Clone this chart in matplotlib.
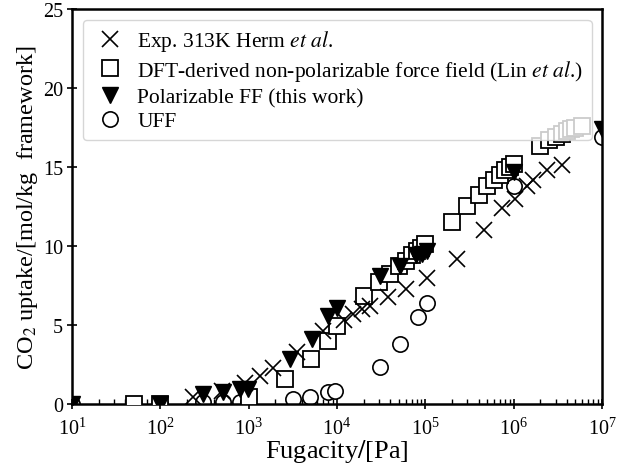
import matplotlib
matplotlib.use("Agg")
import matplotlib.pyplot as plt
import numpy as np

plt.rcParams['font.family'] = ['Liberation Serif', 'DejaVu Serif']
plt.rcParams['mathtext.fontset'] = 'stix'

# Experimental data (Herm et al.), 313 K
exp_p = [237, 495, 910, 1350, 1900, 3500, 6900, 12000, 15000, 19000, 23700,
         38000, 60000, 104000, 227000, 460000, 740000, 1.04e6, 1.4e6,
         1.67e6, 2.4e6, 3.5e6]
exp_q = [0.42, 0.8, 1.35, 1.8, 2.3, 3.3, 4.6, 5.3, 5.7, 6.0, 6.2,
         6.8, 7.3, 8.0, 9.2, 11.0, 12.4, 13.0, 13.8, 14.2, 14.8, 15.1]

# DFT-derived non-polarizable force field (Lin et al.)
dft_p = [50, 100, 1000, 2600, 5100, 8000, 10000, 20000, 30000, 40000,
         50000, 60000, 70000, 80000, 90000, 100000, 2e5, 3e5, 4e5, 5e5, 6e5,
         7e5, 8e5, 9e5, 1e6, 2e6, 2.5e6, 3e6, 3.5e6, 4e6, 4.5e6, 5e6, 6e6]
dft_q = [0.0, 0.0, 0.45, 1.55, 2.85, 4.0, 4.95, 6.85, 7.7, 8.2,
         8.75, 9.05, 9.4, 9.7, 9.9, 10.1, 11.5, 12.5, 13.2, 13.8, 14.2,
         14.5, 14.8, 15.0, 15.2, 16.3, 16.7, 16.9, 17.1, 17.3, 17.4, 17.5, 17.6]

# Polarizable FF (this work)
pol_p = [10, 100, 305, 510, 800, 980, 2950, 5200, 7900, 10000, 31000,
         52000, 79000, 91000, 104000, 1e6, 1e7]
pol_q = [0.0, 0.0, 0.63, 0.76, 0.95, 0.95, 2.85, 4.1, 5.6, 6.1, 8.1,
         8.75, 9.4, 9.5, 9.7, 14.7, 17.4]

# UFF
uff_p = [10, 100, 305, 510, 800, 980, 3160, 4950, 7900, 9500, 31000,
         51000, 83000, 104000, 1e6, 1e7]
uff_q = [0.0, 0.0, 0.1, 0.1, 0.1, 0.1, 0.3, 0.45, 0.74, 0.84, 2.36,
         3.8, 5.5, 6.4, 13.8, 16.9]

fig = plt.figure(figsize=(6.17, 4.77), dpi=100)
ax = fig.add_axes([0.1167, 0.151, 0.859, 0.828])

ms = 11
ax.plot(dft_p, dft_q, 's', mfc='white', mec='k', ms=ms, mew=1.3, ls='none',
        label=r'DFT-derived non-polarizable force field (Lin $\mathit{et\ al}$.)',
        zorder=3)
ax.plot(exp_p, exp_q, 'x', color='k', ms=ms, mew=1.2, ls='none',
        label=r'Exp. 313K Herm $\mathit{et\ al}$.', zorder=3.5)
ax.plot(pol_p, pol_q, 'v', color='k', ms=ms, ls='none',
        label='Polarizable FF (this work)', zorder=4)
ax.plot(uff_p, uff_q, 'o', mfc='white', mec='k', ms=ms, mew=1.2, ls='none',
        label='UFF', zorder=2)

ax.set_xscale('log')
ax.set_xlim(10, 1e7)
ax.set_ylim(0, 25)
ax.set_yticks([0, 5, 10, 15, 20, 25])

ax.set_xlabel(r'Fugacity$/$[Pa]', fontsize=19, labelpad=-1)
ax.set_ylabel(r'CO$_2$ uptake/[mol/kg  framework]', fontsize=17.5)
ax.yaxis.set_label_coords(-0.06, 0.5)

for s in ax.spines.values():
    s.set_linewidth(1.8)
ax.tick_params(which='major', direction='inout', length=7, width=1.2,
               labelsize=14.5)
ax.tick_params(axis='y', which='major', pad=3)
ax.tick_params(axis='x', which='major', pad=6)
ax.tick_params(which='minor', direction='in', length=3.5, width=1.0)

# legend order as in the reference
h, l = ax.get_legend_handles_labels()
order = [1, 0, 2, 3]
ax.legend([h[i] for i in order], [l[i] for i in order],
          loc='upper left', fontsize=15.5, handlelength=1.7,
          handletextpad=0.44, borderaxespad=0.5, labelspacing=0.2)

fig.savefig('out.png', dpi=100)
